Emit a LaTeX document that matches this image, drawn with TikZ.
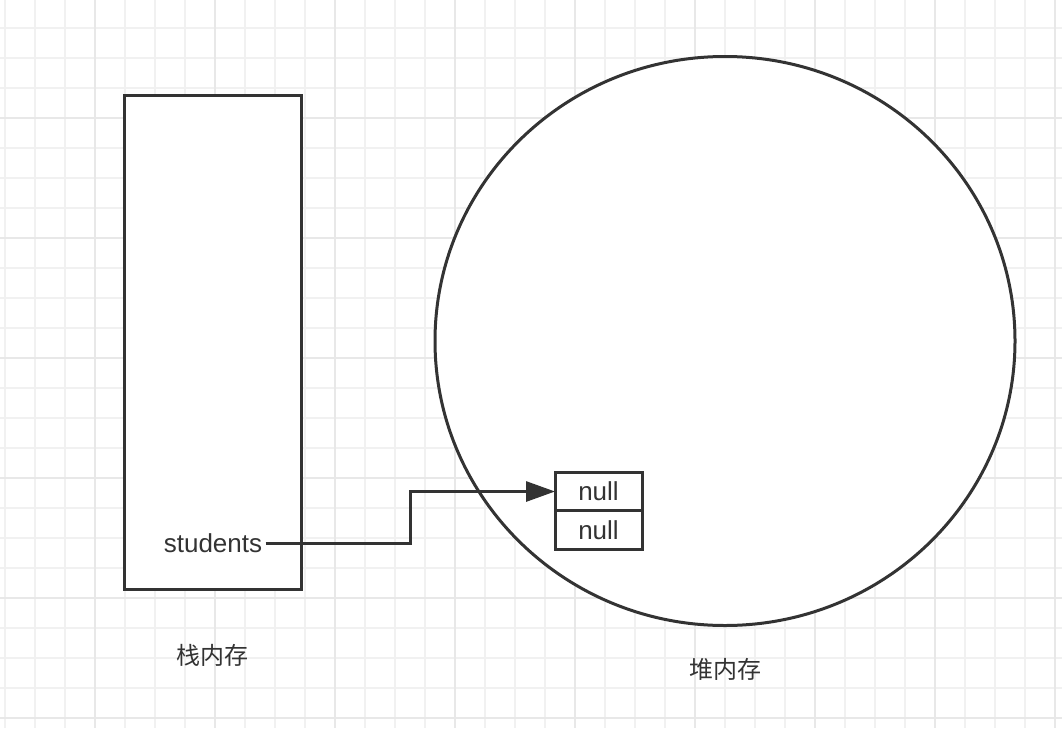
\documentclass[tikz,border=0pt]{standalone}
\usepackage{fontspec}
\setmainfont{Liberation Sans}
\newfontfamily\cjk{Noto Sans CJK SC}
\usepackage{tikz}
\usetikzlibrary{arrows.meta,positioning,calc,shapes.geometric}
\definecolor{cInk}{HTML}{333333}
\definecolor{cGrid}{HTML}{F1F1F1}
\definecolor{cGridMajor}{HTML}{E8E8E8}
\tikzset{
  membox/.style={draw=cInk,fill=white,line width=3pt,inner sep=0pt},
  nullbox/.style={draw=cInk,fill=white,line width=3pt,minimum width=87pt,minimum height=38.5pt,inner sep=0pt,outer sep=0pt,font=\fontsize{26}{30}\selectfont,text=cInk},
  txt/.style={font=\fontsize{26}{30}\selectfont,text=cInk},
  cjktxt/.style={font=\cjk\fontsize{24}{28}\selectfont,text=cInk},
  link/.style={-{Triangle[length=29pt,width=20pt]},line width=3pt,color=cInk},
}

\begin{document}
\begin{tikzpicture}[x=1pt,y=-1pt]
  \useasboundingbox (0,0) rectangle (1062,728);
  % grid
  \foreach \x in {5,35,...,1055}{\draw[cGrid,line width=1.5pt] (\x,0) -- (\x,728);}
  \foreach \y in {28,58,...,718}{\draw[cGrid,line width=1.5pt] (0,\y) -- (1062,\y);}
  \foreach \x in {95,215,...,1055}{\draw[cGridMajor,line width=1.5pt] (\x,0) -- (\x,728);}
  \foreach \y in {-2,118,...,718}{\draw[cGridMajor,line width=1.5pt] (0,\y) -- (1062,\y);}
  % stack and heap
  \node[membox,minimum width=177pt,minimum height=494pt] (stack) at (212.5,342.5) {};
  \node[membox,ellipse,minimum width=580pt,minimum height=569pt] (heap) at (725,341) {};
  \node[cjktxt,below=50pt of stack] (stacklbl) {栈内存};
  \node[cjktxt,below=28pt of heap] (heaplbl) {堆内存};
  % array
  \node[nullbox] (null1) at (598.5,491.5) {null};
  \node[nullbox,below=0pt of null1] (null2) {null};
  \node[txt] (students) at (213,543) {students};
  \draw[link] (students.east) -| ($(students.east)!.5!(null1.west)$) |- (null1.west);
\end{tikzpicture}
\end{document}
